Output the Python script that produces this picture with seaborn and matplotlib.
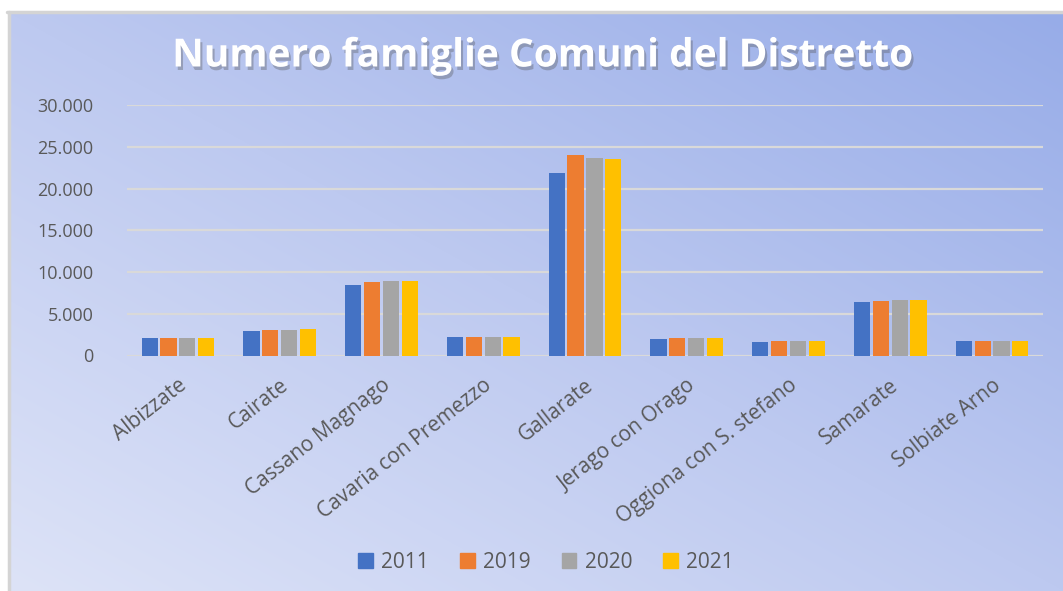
import numpy as np
import pandas as pd
import matplotlib
matplotlib.use("Agg")
import matplotlib.pyplot as plt
import matplotlib.patheffects as pe
import matplotlib.transforms as mtransforms
from matplotlib.ticker import FuncFormatter
import seaborn as sns

# Data
comuni = ["Albizzate", "Cairate", "Cassano Magnago", "Cavaria con Premezzo",
          "Gallarate", "Jerago con Orago", "Oggiona con S. stefano",
          "Samarate", "Solbiate Arno"]
anni = ["2011", "2019", "2020", "2021"]
fam_2011 = [2090, 2880, 8500, 2250, 21800, 2000, 1600, 6450, 1680]
fam_2019 = [2110, 3000, 8800, 2250, 24000, 2150, 1720, 6560, 1680]
fam_2020 = [2100, 3000, 8950, 2250, 23600, 2150, 1720, 6680, 1680]
fam_2021 = [2110, 3120, 8950, 2250, 23550, 2150, 1720, 6680, 1750]
colori = ["#4472C4", "#ED7D31", "#A5A5A5", "#FFC000"]

df = pd.DataFrame({"Comune": comuni * 4,
                   "Anno": np.repeat(anni, len(comuni)),
                   "Famiglie": fam_2011 + fam_2019 + fam_2020 + fam_2021})

sns.set_theme(style="white")
plt.rcParams["font.family"] = ["Open Sans", "DejaVu Sans"]

W, H = 1063, 591
fig = plt.figure(figsize=(W / 100, H / 100), dpi=100)
fig.patch.set_facecolor("white")

# gradient background (light bottom-left -> darker top-right)
x0, y_top = 10, 13
bg = fig.add_axes([x0 / W, 0, 1 - x0 / W, 1 - y_top / H], zorder=0)
gx, gy = np.meshgrid(np.linspace(0, 1, 300), np.linspace(1, 0, 200))
t3 = ((gx + gy) / 2)[..., None]
light = np.array([221, 227, 247]) / 255
mid = np.array([189, 201, 240]) / 255
dark = np.array([151, 172, 232]) / 255
img = np.where(t3 < 0.5, light + (mid - light) * (t3 / 0.5),
               mid + (dark - mid) * ((t3 - 0.5) / 0.5))
bg.imshow(img, aspect="auto", extent=[0, 1, 0, 1], interpolation="bilinear")
bg.set_axis_off()
fig.add_artist(plt.Line2D([8.5 / W, 8.5 / W], [0, 1 - 12 / H], color="#D4D4D4",
                          lw=2.5, transform=fig.transFigure))
fig.add_artist(plt.Line2D([7 / W, 1], [1 - 12 / H, 1 - 12 / H], color="#D4D4D4",
                          lw=2.5, transform=fig.transFigure))

ax = fig.add_axes([127 / W, 1 - 355.5 / H, (1043 - 127) / W, (355.5 - 105) / H], zorder=1)
ax.patch.set_alpha(0)

sns.barplot(data=df, x="Comune", y="Famiglie", hue="Anno", palette=colori,
            saturation=1, width=0.74, gap=0.14, errorbar=None, linewidth=0,
            ax=ax, zorder=3)

ax.set_ylim(0, 30000)
ax.set_yticks(range(0, 30001, 5000))
ax.yaxis.set_major_formatter(FuncFormatter(lambda v, p: f"{int(v):,}".replace(",", ".")))
ax.grid(axis="y", color="#D9D9D9", lw=1.6, zorder=0)
ax.set_axisbelow(True)
for s in ax.spines.values():
    s.set_visible(False)
ax.set_xlabel("")
ax.set_ylabel("")
ax.tick_params(axis="y", length=0, pad=24, labelsize=13, labelcolor="#595959")
ax.tick_params(axis="x", length=0, pad=20, labelsize=15, labelcolor="#595959")
shift = mtransforms.ScaledTranslation(6 / 100, 0, fig.dpi_scale_trans)
for lbl in ax.get_xticklabels():
    lbl.set_rotation(38)
    lbl.set_ha("right")
    lbl.set_va("center")
    lbl.set_rotation_mode("anchor")
    lbl.set_transform(lbl.get_transform() + shift)

ax.legend_.remove()
handles = [plt.Rectangle((0, 0), 1, 1, color=c) for c in colori]
fig.legend(handles, anni, loc="center", bbox_to_anchor=(546 / W, 1 - 562 / H),
           ncol=4, frameon=False, fontsize=15, handlelength=0.7, handleheight=0.7,
           handletextpad=0.4, columnspacing=1.5, labelcolor="#595959")

fig.text(542 / W, 1 - 56 / H, "Numero famiglie Comuni del Distretto",
         ha="center", va="center", fontsize=28, fontweight="bold", color="white",
         path_effects=[pe.withSimplePatchShadow(offset=(1.5, -2.5), shadow_rgbFace="#555555", alpha=0.35)])

fig.savefig("out.png", dpi=100)
